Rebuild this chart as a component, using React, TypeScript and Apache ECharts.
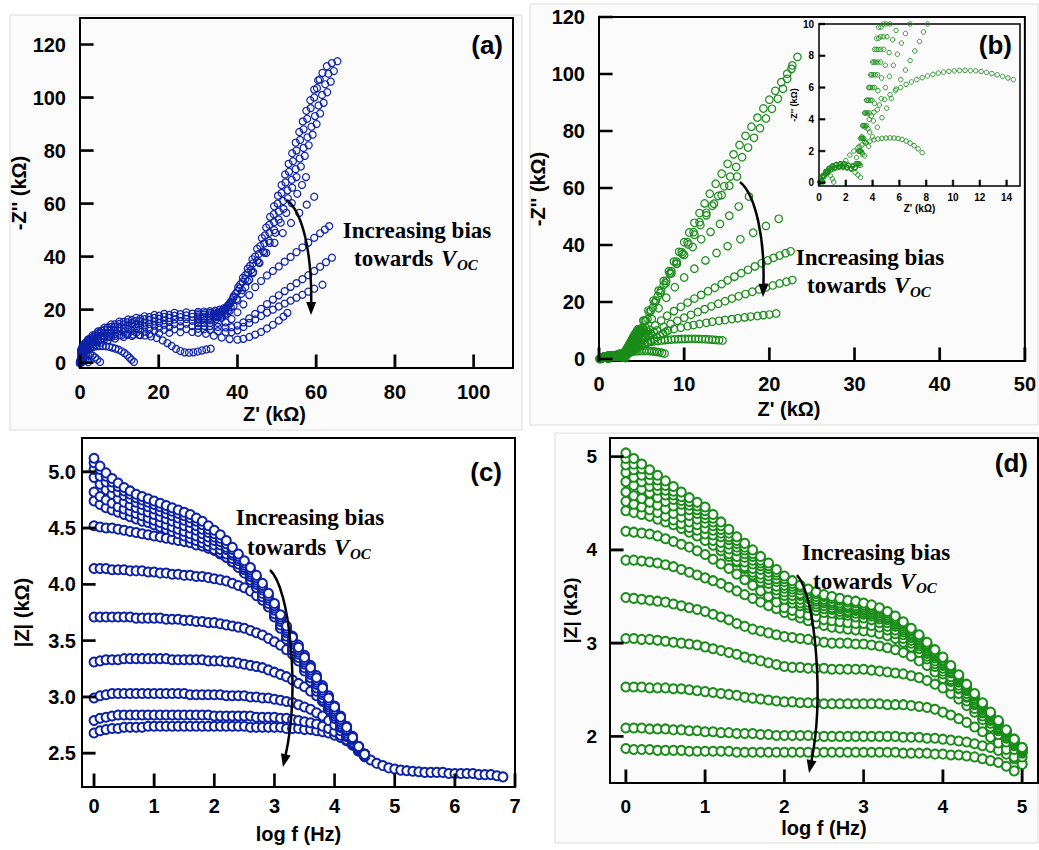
import React, { useEffect, useRef } from "react";
import * as echarts from "echarts";

const BLUE = "#0d22a8";
const GREEN = "#1a8c1a";
const FONT = "'Liberation Sans', Arial, Helvetica, sans-serif";
const SERIF = "'Liberation Serif', 'Times New Roman', serif";

// ---------------- Panel (a): Nyquist, blue ----------------
const aPlateauZreA = [0, 0.3, 1, 2, 3.2, 4.6, 6.2, 7.9, 10, 12.2, 14.3, 16.4, 18.9, 21.4, 24, 27];
const aPlateauZreB = [0, 0.5, 1.4, 2.6, 3.9, 5.4, 7, 8.9, 11.1, 13.2, 15.3, 17.6, 20.1, 22.7, 25.5, 28.5];
const aM1 = [0, 4.9, 6.8, 8.7, 10.3, 11.8, 13.2, 14.4, 15.5, 16.3, 16.9, 17.5, 18.0, 18.4, 18.8, 19.0];
const aM2 = [0, 5.6, 7.5, 9.2, 10.7, 12.1, 13.3, 14.5, 15.4, 16.1, 16.6, 17.2, 17.7, 18.0, 18.3, 18.5];
const aM3 = [0, 4.6, 6.4, 8.2, 9.6, 11.1, 12.4, 13.5, 14.6, 15.3, 15.8, 16.4, 16.9, 17.3, 17.7, 17.8];
const aM4 = [0, 5.3, 7.0, 8.6, 10.0, 11.4, 12.5, 13.6, 14.4, 15.0, 15.6, 16.1, 16.5, 16.9, 17.2, 17.3];
const aM5 = [0, 4.2, 5.9, 7.6, 8.9, 10.2, 11.4, 12.4, 13.4, 14.1, 14.6, 15.1, 15.6, 16.0, 16.3, 16.5];
const aM6 = [0, 4.8, 6.4, 7.8, 9.1, 10.3, 11.4, 12.3, 13.1, 13.7, 14.2, 14.6, 15.0, 15.4, 15.6, 15.8];
const aM7 = [0, 3.8, 5.3, 6.8, 8.0, 9.2, 10.2, 11.1, 12.0, 12.6, 13.1, 13.5, 14.0, 14.3, 14.6, 14.7];
const aM8 = [0, 4.2, 5.6, 6.9, 8.0, 9.0, 9.9, 10.8, 11.5, 12.0, 12.4, 12.8, 13.2, 13.4, 13.7, 13.8];
const aM9 = [0, 3.3, 4.6, 5.9, 6.9, 7.9, 8.8, 9.6, 10.4, 10.9, 11.3, 11.7, 12.1, 12.4, 12.6, 12.7];
const aM10 = [0, 3.5, 4.7, 5.8, 6.7, 7.6, 8.4, 9.1, 9.7, 10.1, 10.4, 10.8, 11.1, 11.3, 11.5, 11.6];
const aM1Tail = [[30, 19.2], [31.5, 19.3], [33, 19.4], [34.3, 19.6], [35.5, 20], [36.6, 20.6], [37.5, 21.5], [38.3, 22.9], [39, 24.5], [40.5, 28], [42, 31.5], [43.5, 35], [45, 38.5], [46.5, 42], [48, 46], [49.3, 50], [50.5, 54], [51.7, 58], [52.8, 62], [53.9, 66], [55, 70], [56.1, 74], [57.1, 78], [58.1, 82], [59.1, 86], [60.1, 90], [61, 94], [61.9, 98], [62.8, 102], [63.7, 106], [64.5, 110], [65.4, 113.7]];
const aM2Tail = [[30, 18.6], [31.7, 18.7], [33, 18.8], [34.2, 19], [35.3, 19.3], [36.3, 19.9], [37.2, 20.8], [38, 22.1], [38.6, 23.5], [40, 27], [41.3, 30.5], [42.7, 34], [44, 37.5], [45.4, 41], [46.8, 45], [48.1, 49], [49.3, 53], [50.5, 57], [51.6, 61], [52.7, 65], [53.8, 69], [54.8, 73], [55.8, 77], [56.8, 81], [57.8, 85], [58.8, 89], [59.7, 93], [60.6, 97], [61.5, 101], [62.3, 105], [63.1, 109], [64, 113]];
const aM3Tail = [[30, 18], [31.5, 18.1], [33, 18.2], [34, 18.4], [35, 18.6], [36, 19.2], [36.8, 20], [37.6, 21.3], [38.2, 22.7], [39.5, 26], [40.7, 29.5], [42, 33], [43.2, 36.5], [44.5, 40], [45.8, 44], [47, 48], [48.1, 52], [49.2, 56], [50.2, 60], [51.2, 64], [52.2, 68], [53.1, 72], [54.1, 76], [55, 80], [55.9, 84], [56.8, 88], [57.7, 92], [58.6, 96], [59.5, 100], [60.2, 103.5], [60.9, 106.8]];
const aM4Tail = [[30, 17.4], [31.6, 17.4], [33, 17.5], [34, 17.6], [34.8, 17.8], [35.7, 18.4], [36.5, 19.2], [37.2, 20.4], [37.8, 21.8], [39, 25], [40.2, 28.5], [41.4, 32], [42.6, 35.5], [43.8, 39], [45, 43], [46.2, 47], [47.3, 51], [48.3, 55], [49.3, 59], [50.3, 63], [51.2, 67], [52.1, 71], [53, 75], [53.9, 79], [54.8, 83], [55.7, 87], [56.6, 91], [57.5, 95], [58.5, 99], [59.5, 103], [60.5, 106.5], [61.6, 109.3], [62.7, 111.8]];
const aM5Tail = [[30, 16.7], [31.5, 16.8], [33, 16.9], [34, 17], [35, 17.2], [36, 17.8], [36.8, 18.6], [37.6, 19.7], [38.3, 21], [39.8, 24], [41.2, 27.3], [42.6, 30.7], [44, 34.2], [45.4, 37.8], [46.8, 41.5], [48.2, 45.2], [49.6, 49], [51, 52.8], [52.4, 56.5], [53.8, 60.2], [55.2, 63.7], [56.4, 67], [57.4, 70]];
const aM6Tail = [[30, 15.9], [31.6, 15.9], [33, 16], [34.6, 16.4], [36, 17], [37, 18.1], [38, 19.5], [39, 21.4], [40, 23.5], [41, 26], [42, 28.5], [43, 31.2], [43.9, 33.8], [45.6, 37.6], [47.3, 41.4], [49.4, 45.2], [51.5, 48.9], [53.6, 52.7], [55.7, 56.5], [57.6, 59.6], [59.5, 62.6]];
const aM7Tail = [[30, 14.9], [31.5, 15], [33, 15], [35, 15], [37, 15.2], [38.5, 16.5], [40, 19], [41.5, 22], [43, 25.5], [44.5, 28.5], [46, 30.8], [47.5, 32.9], [49, 34.6], [50.5, 36.3], [52, 38.1], [53.5, 39.9], [55, 41.7], [56.5, 43.5], [58, 45.3], [59.5, 47.1], [61, 48.8], [62.2, 50.2], [63.3, 51.5]];
const aM8Tail = [[30, 13.9], [31.6, 13.9], [33, 13.8], [35, 13.5], [37, 13.3], [38.5, 13.4], [40, 14], [41.5, 15.2], [43, 16.7], [44.5, 18.4], [46, 20.3], [47.5, 22.1], [49, 23.8], [50.5, 25.4], [52, 27], [53.5, 28.6], [55, 30], [56.5, 31.5], [58, 33], [59.5, 34.6], [61, 36.2], [62.5, 37.9], [64, 39.6]];
const aM9Tail = [[30, 12.8], [31.5, 12.6], [33, 12.4], [35, 11.9], [37, 11.5], [38.5, 11.5], [40, 12.2], [41.5, 13.5], [43, 15], [44.5, 16.3], [46, 17.6], [47.5, 18.9], [49, 20], [50.5, 21.2], [52, 22.3], [53.5, 23.4], [55, 24.5], [56.5, 25.6], [58, 26.8], [59.5, 27.9], [61.6, 29.4]];
const aM10Tail = [[30, 11.3], [32, 10.9], [34, 10.2], [36, 9.5], [38, 8.9], [40, 8.7], [41.5, 9], [43, 9.7], [44.5, 10.6], [46, 11.6], [47.5, 12.9], [49, 14.3], [50.5, 15.9], [51.7, 17.4], [52.7, 18.8]];
const aArc04 = [[0.05, 0.1], [0.15, 0.4], [0.3, 0.4], [0.4, 0.1]];
const aArc21 = [[0.05, 0.2], [0.2, 0.9], [0.5, 1.4], [0.9, 1.6], [1.3, 1.4], [1.7, 0.9], [2.1, 0.2]];
const aArc51 = [[0.05, 0.3], [0.2, 1.2], [0.5, 2.0], [0.9, 2.6], [1.4, 3.0], [2.0, 3.2], [2.6, 3.1], [3.2, 2.7], [3.8, 2.0], [4.4, 1.2], [5.1, 0.3]];
const aArc137 = [[0.05, 0.4], [0.2, 1.5], [0.5, 2.6], [0.9, 3.5], [1.4, 4.3], [2, 5], [2.7, 5.5], [3.4, 5.9], [4.2, 6.2], [5, 6.3], [5.8, 6.3], [6.6, 6.2], [7.4, 6], [8.2, 5.7], [9, 5.3], [9.8, 4.9], [10.6, 4.3], [11.3, 3.6], [12, 2.8], [12.6, 1.9], [13.1, 1.1], [13.7, 0.3]];
const aArc332 = [[0, 0], [0.3, 2], [0.8, 4], [1.5, 5.5], [2.5, 6.8], [3.5, 7.8], [4.6, 8.6], [6, 9.3], [7.5, 9.8], [9, 10.1], [10.5, 10.3], [12, 10.5], [13.5, 10.6], [15, 10.5], [16.5, 10.3], [18, 9.9], [19.5, 9.3], [21, 8.4], [22.2, 7.4], [23.3, 6.3], [24.4, 5.2], [25.5, 4.4], [26.6, 3.9], [27.7, 3.8], [28.8, 3.9], [29.9, 4.2], [31, 4.6], [32.1, 5], [33.2, 5.3]];

// ---------------- Panel (b) + inset: Nyquist, green ----------------
const bArcA = [[0.15, 0.1], [0.3, 0.45], [0.5, 0.7], [0.75, 0.9], [1, 1.05], [1.3, 1.15], [1.6, 1.2], [1.9, 1.2], [2.2, 1.1], [2.5, 1.05]];
const bArcB = [[0.2, 0.1], [0.35, 0.4], [0.6, 0.65], [0.9, 0.85], [1.2, 0.95], [1.5, 1], [1.8, 1], [2.1, 0.95], [2.4, 0.9], [2.7, 0.95]];
const bB1 = [[2.75, 1.2], [2.95, 2], [3.1, 2.8], [3.25, 3.6], [3.4, 4.4], [3.55, 5.2], [3.7, 6], [3.85, 6.8], [4, 7.6], [4.15, 8.4], [4.3, 9.1], [4.45, 9.8], [4.6, 10.5], [5.2, 13.5], [5.8, 17], [6.4, 20.5], [7, 24], [7.6, 27.4], [8.2, 30.8], [8.8, 34.2], [9.4, 37.6], [10, 41], [10.6, 44.4], [11.2, 47.8], [11.8, 51.2], [12.4, 54.6], [13, 58], [13.7, 61.5], [14.4, 65], [15.1, 68.5], [15.8, 71.8], [16.5, 75.1], [17.2, 78.3], [17.9, 81.5], [18.6, 84.7], [19.3, 87.9], [20, 91], [20.7, 94.1], [21.4, 97.1], [22.1, 100.1], [22.7, 103], [23.3, 106]];
const bB2 = [[2.8, 1.2], [3, 2], [3.15, 2.8], [3.3, 3.6], [3.45, 4.4], [3.6, 5.2], [3.77, 6], [3.93, 6.8], [4.1, 7.6], [4.27, 8.4], [4.45, 9.1], [4.62, 9.8], [4.8, 10.5], [5.35, 13.4], [5.95, 16.6], [6.55, 19.8], [7.2, 23.2], [7.85, 26.6], [8.5, 30], [9.15, 33.4], [9.8, 36.8], [10.5, 40.2], [11.2, 43.6], [11.9, 47], [12.6, 50.4], [13.3, 53.8], [14, 57.2], [14.7, 60.6], [15.4, 64], [16.1, 67.4], [16.8, 70.8], [17.5, 74.2], [18.2, 77.6], [18.9, 81], [19.6, 84.4], [20.3, 87.8], [21, 91.3], [21.6, 94.8], [22.1, 98.3], [22.6, 101.8]];
const bB3 = [[2.85, 1.2], [3.05, 2], [3.2, 2.8], [3.37, 3.6], [3.53, 4.4], [3.7, 5.2], [3.87, 6], [4.05, 6.8], [4.23, 7.6], [4.41, 8.4], [4.6, 9.2], [4.8, 10], [5, 10.8], [5.5, 13.5], [6.1, 17], [6.7, 20.5], [7.3, 24], [7.9, 27.4], [8.5, 30.8], [9.1, 34.2], [9.7, 37.5], [10.4, 41], [11.1, 44.5], [11.8, 48], [12.6, 51.3], [13.5, 54.5], [14.4, 57.5], [15.3, 60.8], [16.2, 64]];
const bB4 = [[2.9, 1.2], [3.1, 2], [3.27, 2.8], [3.45, 3.6], [3.63, 4.4], [3.82, 5.2], [4.01, 6], [4.2, 6.8], [4.4, 7.6], [4.6, 8.4], [4.8, 9.2], [5, 10], [5.2, 10.8], [5.7, 14], [6.3, 18], [6.9, 22], [7.6, 26], [8.3, 30], [9.1, 33.5], [10, 36.5], [11, 39.3], [12, 42], [13.1, 44.6], [14.2, 47.4], [15.3, 50.3], [16.4, 53.5], [17.6, 57]];
const bB5 = [[2.95, 1.2], [3.15, 2], [3.35, 2.8], [3.55, 3.6], [3.75, 4.4], [3.95, 5.2], [4.15, 6], [4.37, 6.8], [4.6, 7.6], [4.83, 8.4], [5.07, 9.2], [5.3, 10], [5.55, 10.8], [6.2, 14], [7, 17.8], [7.9, 21.5], [8.9, 25.2], [10, 28.6], [11.2, 31.7], [12.5, 34.6], [13.8, 37.2], [15.1, 39.6], [16.6, 42], [18.1, 44.3], [19.6, 46.7], [21.1, 49.2]];
const bB6 = [[3, 1.2], [3.2, 1.9], [3.42, 2.6], [3.65, 3.4], [3.9, 4.2], [4.15, 5], [4.4, 5.8], [4.67, 6.6], [4.95, 7.4], [5.23, 8.2], [5.5, 9], [5.75, 9.6], [6, 10.2], [6.6, 11.8], [7.3, 13.5], [8, 15.2], [8.8, 16.8], [9.6, 18.3], [10.4, 19.8], [11.2, 21.2], [12, 22.5], [12.8, 23.8], [13.6, 25], [14.4, 26.3], [15.1, 27.6], [15.9, 28.9], [16.7, 30.1], [17.5, 31.3], [18.3, 32.5], [19.1, 33.6], [19.8, 34.6], [20.5, 35.5], [21.2, 36.3], [21.9, 37.1], [22.5, 37.8]];
const bB7 = [[3, 1.1], [3.25, 1.8], [3.5, 2.5], [3.78, 3.2], [4.06, 3.9], [4.35, 4.6], [4.65, 5.3], [4.95, 6], [5.25, 6.7], [5.55, 7.4], [5.85, 8.1], [6.15, 8.8], [6.45, 9.4], [6.8, 10], [7.6, 11.2], [8.4, 12.3], [9.2, 13.4], [10, 14.5], [10.8, 15.5], [11.6, 16.5], [12.4, 17.5], [13.2, 18.5], [14, 19.4], [14.8, 20.3], [15.6, 21.2], [16.4, 22], [17.2, 22.8], [18, 23.6], [18.8, 24.4], [19.6, 25.1], [20.4, 25.8], [21.2, 26.5], [22, 27.1], [22.7, 27.7]];
const bB8 = [[3.1, 1.1], [3.4, 1.7], [3.7, 2.3], [4, 2.9], [4.35, 3.5], [4.7, 4.1], [5.05, 4.7], [5.4, 5.3], [5.75, 5.9], [6.1, 6.5], [6.45, 7.1], [6.8, 7.7], [7.15, 8.3], [7.5, 8.9], [7.8, 9.5], [8.1, 10], [8.8, 10.5], [9.6, 11], [10.4, 11.5], [11.1, 11.9], [11.8, 12.3], [12.6, 12.7], [13.3, 13.1], [14.1, 13.4], [14.8, 13.7], [15.6, 14], [16.3, 14.3], [17.1, 14.6], [17.8, 14.9], [18.6, 15.1], [19.3, 15.4], [20, 15.6], [20.8, 16]];
const bB9 = [[2.8, 1.6], [3, 2.3], [3.2, 2.9], [3.45, 3.5], [3.75, 4], [4.1, 4.45], [4.5, 4.9], [4.9, 5.25], [5.3, 5.55], [5.7, 5.8], [6.1, 6], [6.5, 6.2], [6.9, 6.35], [7.3, 6.5], [7.7, 6.62], [8.1, 6.73], [8.5, 6.83], [8.9, 6.91], [9.3, 6.97], [9.7, 7.02], [10.1, 7.05], [10.5, 7.07], [10.9, 7.08], [11.3, 7.07], [11.7, 7.05], [12.1, 7.01], [12.5, 6.95], [12.9, 6.88], [13.3, 6.8], [13.7, 6.7], [14.1, 6.6], [14.5, 6.5]];
const bB10 = [[0.2, 0.1], [0.4, 0.45], [0.7, 0.7], [1, 0.85], [1.3, 0.95], [1.6, 1.05], [1.8, 1.2], [2, 1.4], [2.3, 1.75], [2.6, 2], [2.9, 2.2], [3.2, 2.38], [3.5, 2.52], [3.8, 2.62], [4.1, 2.7], [4.4, 2.76], [4.7, 2.8], [5, 2.82], [5.3, 2.83], [5.6, 2.82], [5.9, 2.79], [6.2, 2.73], [6.5, 2.63], [6.8, 2.5], [7.1, 2.34], [7.4, 2.14], [7.7, 1.9]];
const bB11 = [[0.1, 0.05], [0.3, 0.4], [0.6, 0.75], [0.9, 0.95], [1.2, 1.1], [1.5, 1.15], [1.8, 1.1], [2.1, 1], [2.4, 0.85], [2.7, 0.65], [2.9, 0.5], [3.1, 0.35]];
const bB12 = [[0.1, 0.05], [0.25, 0.35], [0.45, 0.55], [0.65, 0.6], [0.85, 0.45], [1, 0.25], [1.1, 0.05]];
const bB13 = [[0.05, 0.05], [0.15, 0.15], [0.25, 0.12], [0.3, 0.05]];

// ---------------- Panel (c): |Z| vs log f, blue ----------------
const cLogF = [0, 0.1, 0.2, 0.3, 0.4, 0.5, 0.6, 0.7, 0.8, 0.9, 1, 1.1, 1.2, 1.3, 1.4, 1.5, 1.6, 1.7, 1.8, 1.9, 2, 2.1, 2.2, 2.3, 2.4, 2.5, 2.6, 2.7, 2.8, 2.9, 3, 3.1, 3.2, 3.3, 3.4, 3.5, 3.6, 3.7, 3.8, 3.9, 4, 4.1, 4.2, 4.3, 4.4, 4.5];
const cTailLogF = [4.6, 4.7, 4.8, 4.9, 5, 5.1, 5.2, 5.3, 5.4, 5.5, 5.6, 5.7, 5.8, 5.9, 6, 6.1, 6.2, 6.3, 6.4, 6.5, 6.6, 6.7, 6.8];
const cTail = [2.44, 2.41, 2.39, 2.37, 2.36, 2.35, 2.345, 2.34, 2.335, 2.33, 2.33, 2.33, 2.33, 2.32, 2.32, 2.32, 2.32, 2.32, 2.31, 2.31, 2.31, 2.3, 2.29];
const cU1 = [5.12, 5.05, 4.99, 4.94, 4.90, 4.86, 4.83, 4.80, 4.78, 4.76, 4.74, 4.72, 4.70, 4.68, 4.66, 4.64, 4.62, 4.59, 4.56, 4.52, 4.48, 4.44, 4.39, 4.33, 4.27, 4.21, 4.15, 4.08, 4.01, 3.92, 3.83, 3.73, 3.63, 3.53, 3.44, 3.35, 3.26, 3.17, 3.08, 2.99, 2.91, 2.82, 2.73, 2.64, 2.56, 2.49];
const cU2 = [5.08, 5.02, 4.96, 4.91, 4.87, 4.83, 4.80, 4.77, 4.75, 4.73, 4.71, 4.69, 4.67, 4.65, 4.63, 4.61, 4.59, 4.56, 4.53, 4.49, 4.45, 4.41, 4.36, 4.31, 4.25, 4.19, 4.13, 4.06, 3.99, 3.90, 3.81, 3.71, 3.61, 3.51, 3.42, 3.33, 3.24, 3.15, 3.06, 2.97, 2.89, 2.80, 2.71, 2.63, 2.55, 2.49];
const cU3 = [5.02, 4.96, 4.91, 4.86, 4.82, 4.79, 4.76, 4.73, 4.71, 4.69, 4.67, 4.65, 4.63, 4.61, 4.59, 4.57, 4.55, 4.52, 4.49, 4.46, 4.42, 4.38, 4.33, 4.28, 4.23, 4.17, 4.11, 4.04, 3.97, 3.88, 3.79, 3.69, 3.59, 3.49, 3.40, 3.31, 3.22, 3.13, 3.04, 2.95, 2.87, 2.78, 2.70, 2.62, 2.54, 2.48];
const cU4 = [4.95, 4.89, 4.84, 4.80, 4.76, 4.73, 4.70, 4.68, 4.66, 4.64, 4.62, 4.60, 4.58, 4.56, 4.54, 4.52, 4.50, 4.48, 4.45, 4.42, 4.39, 4.35, 4.31, 4.26, 4.21, 4.15, 4.09, 4.02, 3.95, 3.86, 3.77, 3.67, 3.57, 3.47, 3.38, 3.29, 3.20, 3.11, 3.02, 2.93, 2.85, 2.76, 2.68, 2.60, 2.53, 2.48];
const cU5 = [4.82, 4.78, 4.75, 4.72, 4.69, 4.67, 4.65, 4.63, 4.61, 4.59, 4.57, 4.55, 4.53, 4.51, 4.49, 4.47, 4.45, 4.43, 4.41, 4.38, 4.35, 4.31, 4.27, 4.23, 4.18, 4.13, 4.07, 4.00, 3.92, 3.83, 3.74, 3.64, 3.54, 3.44, 3.35, 3.26, 3.17, 3.08, 2.99, 2.91, 2.83, 2.74, 2.66, 2.59, 2.52, 2.47];
const cU6 = [4.74, 4.71, 4.68, 4.66, 4.64, 4.62, 4.60, 4.58, 4.56, 4.55, 4.53, 4.51, 4.49, 4.47, 4.45, 4.43, 4.41, 4.39, 4.37, 4.34, 4.31, 4.28, 4.24, 4.20, 4.15, 4.10, 4.04, 3.97, 3.89, 3.80, 3.71, 3.61, 3.51, 3.41, 3.32, 3.23, 3.14, 3.05, 2.97, 2.89, 2.81, 2.73, 2.65, 2.58, 2.52, 2.47];
const cL7 = [4.52, 4.51, 4.50, 4.50, 4.49, 4.48, 4.47, 4.46, 4.45, 4.44, 4.43, 4.42, 4.41, 4.40, 4.39, 4.38, 4.37, 4.35, 4.34, 4.32, 4.30, 4.27, 4.24, 4.20, 4.16, 4.11, 4.05, 3.98, 3.90, 3.81, 3.72, 3.62, 3.52, 3.42, 3.33, 3.24, 3.15, 3.06, 2.97, 2.89, 2.81, 2.73, 2.65, 2.58, 2.52, 2.47];
const cL6 = [4.14, 4.14, 4.14, 4.13, 4.13, 4.13, 4.12, 4.12, 4.12, 4.11, 4.11, 4.10, 4.10, 4.09, 4.09, 4.08, 4.08, 4.07, 4.07, 4.06, 4.05, 4.04, 4.03, 4.01, 3.99, 3.97, 3.94, 3.90, 3.86, 3.81, 3.75, 3.69, 3.62, 3.54, 3.46, 3.37, 3.28, 3.19, 3.10, 3.01, 2.92, 2.83, 2.74, 2.65, 2.56, 2.49];
const cL5 = [3.71, 3.71, 3.71, 3.71, 3.71, 3.71, 3.71, 3.70, 3.70, 3.70, 3.70, 3.70, 3.69, 3.69, 3.69, 3.68, 3.68, 3.67, 3.67, 3.66, 3.66, 3.65, 3.64, 3.63, 3.62, 3.61, 3.59, 3.57, 3.55, 3.52, 3.49, 3.46, 3.42, 3.38, 3.33, 3.28, 3.22, 3.15, 3.08, 3.00, 2.91, 2.82, 2.73, 2.64, 2.56, 2.49];
const cL4 = [3.31, 3.32, 3.33, 3.33, 3.33, 3.34, 3.34, 3.34, 3.34, 3.34, 3.34, 3.34, 3.34, 3.33, 3.33, 3.33, 3.33, 3.33, 3.33, 3.32, 3.32, 3.32, 3.31, 3.31, 3.30, 3.29, 3.28, 3.27, 3.26, 3.24, 3.22, 3.20, 3.18, 3.15, 3.12, 3.09, 3.05, 3.01, 2.96, 2.90, 2.84, 2.77, 2.70, 2.62, 2.55, 2.49];
const cL3 = [2.99, 3.01, 3.02, 3.03, 3.03, 3.03, 3.03, 3.03, 3.03, 3.03, 3.03, 3.03, 3.03, 3.03, 3.03, 3.03, 3.02, 3.02, 3.02, 3.02, 3.02, 3.02, 3.01, 3.01, 3.01, 3.01, 3.00, 3.00, 2.99, 2.99, 2.98, 2.97, 2.96, 2.95, 2.93, 2.91, 2.89, 2.86, 2.83, 2.79, 2.75, 2.70, 2.65, 2.59, 2.54, 2.49];
const cL2 = [2.79, 2.81, 2.82, 2.83, 2.84, 2.84, 2.84, 2.84, 2.84, 2.84, 2.84, 2.84, 2.84, 2.84, 2.84, 2.84, 2.84, 2.84, 2.84, 2.84, 2.83, 2.83, 2.83, 2.83, 2.83, 2.83, 2.83, 2.82, 2.82, 2.82, 2.82, 2.81, 2.81, 2.80, 2.79, 2.78, 2.77, 2.76, 2.74, 2.72, 2.69, 2.66, 2.62, 2.58, 2.53, 2.49];
const cL1 = [2.68, 2.70, 2.71, 2.72, 2.72, 2.73, 2.73, 2.73, 2.73, 2.74, 2.74, 2.74, 2.74, 2.74, 2.74, 2.74, 2.74, 2.74, 2.74, 2.74, 2.74, 2.74, 2.74, 2.74, 2.74, 2.74, 2.73, 2.73, 2.73, 2.73, 2.73, 2.73, 2.72, 2.72, 2.72, 2.71, 2.71, 2.70, 2.69, 2.68, 2.66, 2.64, 2.61, 2.57, 2.53, 2.49];

// ---------------- Panel (d): |Z| vs log f, green ----------------
const dLogF = [0, 0.1, 0.2, 0.3, 0.4, 0.5, 0.6, 0.7, 0.8, 0.9, 1, 1.1, 1.2, 1.3, 1.4, 1.5, 1.6, 1.7, 1.8, 1.9, 2, 2.1, 2.2, 2.3, 2.4, 2.5, 2.6, 2.7, 2.8, 2.9, 3, 3.1, 3.2, 3.3, 3.4, 3.5, 3.6, 3.7, 3.8, 3.9, 4, 4.1, 4.2, 4.3, 4.4, 4.5, 4.6, 4.7, 4.8, 4.9, 5];
const dD1 = [5.04, 4.98, 4.92, 4.86, 4.80, 4.74, 4.68, 4.62, 4.56, 4.51, 4.46, 4.38, 4.30, 4.22, 4.14, 4.07, 4.00, 3.93, 3.86, 3.79, 3.72, 3.67, 3.62, 3.58, 3.55, 3.52, 3.50, 3.48, 3.46, 3.45, 3.43, 3.41, 3.38, 3.34, 3.29, 3.23, 3.16, 3.09, 3.01, 2.93, 2.85, 2.76, 2.66, 2.56, 2.46, 2.36, 2.26, 2.17, 2.07, 1.97, 1.88];
const dD2 = [4.98, 4.92, 4.87, 4.81, 4.75, 4.69, 4.63, 4.57, 4.52, 4.47, 4.42, 4.34, 4.26, 4.18, 4.10, 4.03, 3.96, 3.89, 3.83, 3.76, 3.69, 3.64, 3.60, 3.56, 3.53, 3.50, 3.48, 3.46, 3.44, 3.43, 3.41, 3.39, 3.36, 3.32, 3.27, 3.21, 3.14, 3.07, 2.99, 2.92, 2.84, 2.75, 2.65, 2.55, 2.45, 2.35, 2.25, 2.16, 2.06, 1.97, 1.88];
const dD3 = [4.91, 4.86, 4.80, 4.75, 4.69, 4.64, 4.59, 4.53, 4.48, 4.43, 4.38, 4.30, 4.22, 4.14, 4.07, 4.00, 3.93, 3.86, 3.80, 3.73, 3.66, 3.61, 3.57, 3.53, 3.50, 3.47, 3.45, 3.43, 3.41, 3.40, 3.39, 3.37, 3.34, 3.30, 3.25, 3.20, 3.13, 3.06, 2.98, 2.90, 2.82, 2.73, 2.64, 2.54, 2.44, 2.34, 2.24, 2.15, 2.05, 1.96, 1.87];
const dD4 = [4.83, 4.78, 4.73, 4.68, 4.64, 4.59, 4.54, 4.49, 4.43, 4.39, 4.34, 4.26, 4.18, 4.11, 4.03, 3.96, 3.89, 3.83, 3.76, 3.69, 3.62, 3.58, 3.53, 3.50, 3.47, 3.45, 3.43, 3.41, 3.39, 3.38, 3.37, 3.35, 3.32, 3.28, 3.24, 3.18, 3.11, 3.04, 2.97, 2.89, 2.81, 2.72, 2.62, 2.53, 2.43, 2.33, 2.23, 2.15, 2.05, 1.96, 1.87];
const dD5 = [4.73, 4.69, 4.65, 4.61, 4.56, 4.52, 4.47, 4.42, 4.37, 4.33, 4.29, 4.21, 4.14, 4.06, 3.99, 3.92, 3.85, 3.79, 3.72, 3.66, 3.59, 3.55, 3.51, 3.48, 3.45, 3.43, 3.41, 3.39, 3.38, 3.37, 3.35, 3.33, 3.30, 3.27, 3.22, 3.16, 3.09, 3.03, 2.95, 2.87, 2.79, 2.70, 2.61, 2.51, 2.41, 2.32, 2.22, 2.14, 2.04, 1.95, 1.86];
const dD6 = [4.62, 4.58, 4.55, 4.51, 4.48, 4.44, 4.39, 4.35, 4.30, 4.27, 4.23, 4.16, 4.08, 4.01, 3.93, 3.87, 3.80, 3.74, 3.68, 3.61, 3.55, 3.51, 3.47, 3.44, 3.42, 3.40, 3.38, 3.37, 3.35, 3.35, 3.33, 3.31, 3.28, 3.25, 3.20, 3.14, 3.07, 3.01, 2.93, 2.86, 2.78, 2.69, 2.60, 2.50, 2.41, 2.31, 2.22, 2.13, 2.04, 1.94, 1.86];
const dD7 = [4.52, 4.49, 4.46, 4.43, 4.40, 4.36, 4.32, 4.28, 4.24, 4.21, 4.17, 4.10, 4.03, 3.96, 3.88, 3.82, 3.76, 3.70, 3.64, 3.57, 3.51, 3.47, 3.43, 3.41, 3.39, 3.37, 3.36, 3.34, 3.33, 3.32, 3.31, 3.29, 3.26, 3.22, 3.18, 3.12, 3.06, 2.99, 2.91, 2.84, 2.76, 2.68, 2.58, 2.49, 2.39, 2.30, 2.21, 2.12, 2.03, 1.93, 1.85];
const dD8 = [4.42, 4.40, 4.38, 4.36, 4.33, 4.30, 4.27, 4.23, 4.19, 4.15, 4.10, 4.05, 3.99, 3.93, 3.87, 3.80, 3.73, 3.66, 3.59, 3.53, 3.47, 3.43, 3.40, 3.38, 3.35, 3.33, 3.32, 3.31, 3.30, 3.28, 3.27, 3.25, 3.22, 3.18, 3.14, 3.09, 3.03, 2.97, 2.89, 2.81, 2.73, 2.64, 2.55, 2.46, 2.37, 2.28, 2.19, 2.10, 2.01, 1.93, 1.85];
const dD9 = [4.20, 4.19, 4.18, 4.17, 4.15, 4.12, 4.09, 4.06, 4.03, 3.99, 3.95, 3.90, 3.85, 3.80, 3.74, 3.68, 3.62, 3.56, 3.50, 3.44, 3.38, 3.35, 3.32, 3.30, 3.28, 3.25, 3.24, 3.23, 3.22, 3.21, 3.21, 3.19, 3.17, 3.14, 3.10, 3.05, 3.00, 2.94, 2.86, 2.78, 2.70, 2.61, 2.52, 2.43, 2.35, 2.26, 2.18, 2.09, 2.01, 1.92, 1.84];
const dD10 = [3.89, 3.89, 3.88, 3.87, 3.86, 3.84, 3.82, 3.79, 3.76, 3.73, 3.70, 3.67, 3.64, 3.60, 3.56, 3.52, 3.48, 3.44, 3.40, 3.37, 3.33, 3.30, 3.27, 3.24, 3.21, 3.19, 3.17, 3.16, 3.15, 3.14, 3.13, 3.12, 3.10, 3.08, 3.05, 3.01, 2.96, 2.90, 2.83, 2.75, 2.67, 2.59, 2.51, 2.42, 2.34, 2.25, 2.17, 2.08, 2.00, 1.91, 1.83];
const dD11 = [3.49, 3.48, 3.47, 3.46, 3.45, 3.44, 3.42, 3.40, 3.38, 3.36, 3.34, 3.31, 3.28, 3.25, 3.21, 3.18, 3.15, 3.13, 3.11, 3.09, 3.07, 3.06, 3.05, 3.04, 3.02, 3.01, 3.00, 3.00, 3.00, 2.99, 2.99, 2.98, 2.97, 2.95, 2.93, 2.90, 2.86, 2.81, 2.76, 2.69, 2.62, 2.54, 2.46, 2.38, 2.30, 2.22, 2.14, 2.06, 1.98, 1.90, 1.82];
const dD12 = [3.05, 3.05, 3.04, 3.04, 3.03, 3.02, 3.01, 3.00, 2.99, 2.98, 2.96, 2.94, 2.92, 2.90, 2.88, 2.85, 2.83, 2.81, 2.79, 2.77, 2.75, 2.74, 2.74, 2.73, 2.73, 2.73, 2.72, 2.72, 2.72, 2.72, 2.72, 2.71, 2.70, 2.69, 2.68, 2.67, 2.65, 2.63, 2.60, 2.56, 2.52, 2.46, 2.40, 2.33, 2.26, 2.18, 2.10, 2.02, 1.94, 1.86, 1.78];
const dD13 = [2.53, 2.53, 2.53, 2.52, 2.52, 2.52, 2.51, 2.51, 2.50, 2.49, 2.48, 2.47, 2.46, 2.45, 2.44, 2.42, 2.41, 2.40, 2.39, 2.38, 2.37, 2.37, 2.36, 2.36, 2.36, 2.35, 2.35, 2.35, 2.35, 2.35, 2.35, 2.35, 2.35, 2.34, 2.34, 2.34, 2.33, 2.32, 2.31, 2.29, 2.26, 2.23, 2.19, 2.15, 2.10, 2.05, 1.99, 1.93, 1.86, 1.78, 1.70];
const dD14 = [2.09, 2.09, 2.09, 2.08, 2.08, 2.08, 2.07, 2.07, 2.06, 2.06, 2.05, 2.05, 2.04, 2.04, 2.03, 2.03, 2.03, 2.02, 2.02, 2.01, 2.01, 2.01, 2.01, 2.01, 2.00, 2.00, 2.00, 2.00, 2.00, 2.00, 2.00, 2.00, 2.00, 2.00, 2.00, 1.99, 1.99, 1.99, 1.98, 1.98, 1.97, 1.96, 1.95, 1.94, 1.92, 1.90, 1.88, 1.85, 1.81, 1.76, 1.70];
const dD15 = [1.87, 1.86, 1.86, 1.86, 1.85, 1.85, 1.85, 1.85, 1.84, 1.84, 1.84, 1.84, 1.84, 1.84, 1.83, 1.83, 1.83, 1.83, 1.83, 1.83, 1.83, 1.83, 1.83, 1.83, 1.83, 1.83, 1.83, 1.83, 1.83, 1.83, 1.83, 1.83, 1.83, 1.83, 1.83, 1.82, 1.82, 1.82, 1.82, 1.81, 1.81, 1.80, 1.80, 1.79, 1.78, 1.76, 1.74, 1.72, 1.68, 1.63];

// ---------------- tick labels ----------------
const aXTicks = [0, 20, 40, 60, 80, 100];
const aYTicks = [0, 20, 40, 60, 80, 100, 120];
const bXTicks = [0, 10, 20, 30, 40, 50];
const bYTicks = [0, 20, 40, 60, 80, 100, 120];
const insetXTicks = [0, 2, 4, 6, 8, 10, 12, 14];
const insetYTicks = [0, 2, 4, 6, 8, 10];
const cXTicks = [0, 1, 2, 3, 4, 5, 6, 7];
const cYTicks = [2.5, 3, 3.5, 4, 4.5, 5];
const dXTicks = [0, 1, 2, 3, 4, 5];
const dYTicks = [2, 3, 4, 5];

// plot boxes and axis ranges (layout only)
const BOXES = [
  { left: 80, top: 18, width: 433, height: 350 },
  { left: 599, top: 17, width: 428, height: 344 },
  { left: 819, top: 24, width: 201, height: 162 },
  { left: 82, top: 438, width: 433, height: 349 },
  { left: 610, top: 438, width: 428, height: 345 },
];
const XR = [[0, 110], [0, 50], [0, 15], [-0.2, 7], [-0.2, 5.2]];
const YR = [[-2, 130], [-0.7, 120], [-0.2, 10], [2.2, 5.3], [1.5, 5.2]];

function pairs(xs: number[], ys: number[]) {
  return ys.map((y, i) => [xs[i], y]);
}

function sc(data: number[][], idx: number, color: string, size: number, bw: number, fill: string) {
  return {
    type: "scatter",
    xAxisIndex: idx,
    yAxisIndex: idx,
    data,
    symbol: "circle",
    symbolSize: size,
    clip: true,
    silent: true,
    z: 2,
    itemStyle: { color: fill, borderColor: color, borderWidth: bw, opacity: 1 },
  };
}

// inward tick marks as small bar symbols placed on the axes' own scales
function tickSeries(idx: number, xt: number[], yt: number[], len: number, w: number) {
  const xMin = XR[idx][0];
  const yMin = YR[idx][0];
  return [
    {
      type: "scatter",
      xAxisIndex: idx,
      yAxisIndex: idx,
      data: xt.map((v) => [v, yMin]),
      symbol: "rect",
      symbolSize: [w, len],
      symbolOffset: [0, -len / 2],
      clip: false,
      silent: true,
      z: 20,
      itemStyle: { color: "#000", borderColor: "#000", borderWidth: 0.5, opacity: 1 },
    },
    {
      type: "scatter",
      xAxisIndex: idx,
      yAxisIndex: idx,
      data: yt.map((v) => [xMin, v]),
      symbol: "rect",
      symbolSize: [len, w],
      symbolOffset: [len / 2, 0],
      clip: false,
      silent: true,
      z: 20,
      itemStyle: { color: "#000", borderColor: "#000", borderWidth: 0.5, opacity: 1 },
    },
  ];
}

function axis(o: any) {
  const fs = o.fs ?? 20;
  return {
    type: "value",
    gridIndex: o.grid,
    min: o.min,
    max: o.max,
    axisLine: { show: false, onZero: false },
    splitLine: { show: false },
    axisTick: { show: false },
    axisLabel: {
      customValues: o.ticks,
      color: "#000",
      fontFamily: FONT,
      fontWeight: "bold",
      fontSize: fs,
      margin: o.margin ?? 12,
      formatter: o.fmt,
    },
    name: o.name,
    nameLocation: "middle",
    nameGap: o.gap,
    nameTextStyle: {
      color: "#000",
      fontFamily: FONT,
      fontWeight: "bold",
      fontSize: o.nfs ?? 20,
      padding: o.pad ?? 0,
    },
  };
}

function arrow(x0: number, y0: number, c1x: number, c1y: number, c2x: number, c2y: number, x1: number, y1: number) {
  const dx = x1 - c2x;
  const dy = y1 - c2y;
  const L = Math.sqrt(dx * dx + dy * dy) || 1;
  const ux = dx / L;
  const uy = dy / L;
  const hl = 13;
  const hw = 5;
  const bx = x1 - ux * hl;
  const by = y1 - uy * hl;
  return [
    {
      type: "bezierCurve",
      shape: { x1: x0, y1: y0, cpx1: c1x, cpy1: c1y, cpx2: c2x, cpy2: c2y, x2: bx + ux * 2, y2: by + uy * 2 },
      style: { stroke: "#000", lineWidth: 2.5, fill: null },
      z: 50,
    },
    {
      type: "polygon",
      shape: { points: [[x1, y1], [bx - uy * hw, by + ux * hw], [bx + uy * hw, by - ux * hw]] },
      style: { fill: "#000" },
      z: 50,
    },
  ];
}

function note(cx: number, y1: number, y2: number) {
  return [
    {
      type: "text",
      x: cx,
      y: y1,
      z: 50,
      style: { text: "Increasing bias", fill: "#000", fontFamily: SERIF, fontWeight: "bold", fontSize: 23, align: "center", verticalAlign: "middle" },
    },
    {
      type: "text",
      x: cx - 63,
      y: y2,
      z: 50,
      style: { text: "towards", fill: "#000", fontFamily: SERIF, fontWeight: "bold", fontSize: 23, align: "left", verticalAlign: "middle" },
    },
    {
      type: "text",
      x: cx + 24,
      y: y2,
      z: 50,
      style: { text: "V", fill: "#000", fontFamily: SERIF, fontWeight: "bold", fontStyle: "italic", fontSize: 23, align: "left", verticalAlign: "middle" },
    },
    {
      type: "text",
      x: cx + 40,
      y: y2 + 7,
      z: 50,
      style: { text: "OC", fill: "#000", fontFamily: SERIF, fontWeight: "bold", fontStyle: "italic", fontSize: 15, align: "left", verticalAlign: "middle" },
    },
  ];
}

function panelLabel(text: string, x: number, y: number) {
  return {
    type: "text",
    x,
    y,
    z: 50,
    style: { text, fill: "#000", fontFamily: FONT, fontWeight: "bold", fontSize: 26, align: "right", verticalAlign: "middle" },
  };
}

export default function App() {
  const ref = useRef<HTMLDivElement>(null);

  useEffect(() => {
    if (!ref.current) return;
    const chart = echarts.init(ref.current, undefined, { renderer: "svg" });

    const aCurves = [
      [aPlateauZreA, aM1, aM1Tail], [aPlateauZreB, aM2, aM2Tail], [aPlateauZreA, aM3, aM3Tail],
      [aPlateauZreB, aM4, aM4Tail], [aPlateauZreA, aM5, aM5Tail], [aPlateauZreB, aM6, aM6Tail],
      [aPlateauZreA, aM7, aM7Tail], [aPlateauZreB, aM8, aM8Tail], [aPlateauZreA, aM9, aM9Tail],
      [aPlateauZreB, aM10, aM10Tail],
    ] as [number[], number[], number[][]][];
    const aSeries = [
      ...aCurves.map(([xs, pl, tail]) => sc(pairs(xs, pl).concat(tail), 0, BLUE, 7, 1.2, "rgba(255,255,255,0)")),
      ...[aArc04, aArc21, aArc51, aArc137, aArc332].map((d) => sc(d, 0, BLUE, 7, 1.2, "rgba(255,255,255,0)")),
    ];

    const bCurves = [
      bArcA.concat(bB1), bArcA.concat(bB2), bArcA.concat(bB3), bArcA.concat(bB4),
      bArcB.concat(bB5), bArcB.concat(bB6), bArcB.concat(bB7), bArcB.concat(bB8), bArcB.concat(bB9),
      bB10, bB11, bB12, bB13,
    ];
    const bSeries = bCurves.map((d) => sc(d, 1, GREEN, 7.5, 1.2, "rgba(255,255,255,0)"));
    const insetSeries = bCurves.map((d) => sc(d, 2, GREEN, 4.5, 0.9, "rgba(255,255,255,0)"));

    const cCurves = [cL1, cL2, cL3, cL4, cL5, cL6, cL7, cU6, cU5, cU4, cU3, cU2, cU1];
    const cSeries = [
      sc(pairs(cTailLogF, cTail), 3, BLUE, 9, 2, "#fff"),
      ...cCurves.map((ys) => sc(pairs(cLogF, ys), 3, BLUE, 9, 2, "#fff")),
    ];

    const dCurves = [dD15, dD14, dD13, dD12, dD11, dD10, dD9, dD8, dD7, dD6, dD5, dD4, dD3, dD2, dD1];
    const dSeries = dCurves.map((ys) => sc(pairs(dLogF, ys), 4, GREEN, 9, 2, "#fff"));

    const ticks = [
      ...tickSeries(0, aXTicks, aYTicks, 13, 2.5),
      ...tickSeries(1, bXTicks, bYTicks, 13, 2.5),
      ...tickSeries(2, insetXTicks, insetYTicks, 6, 1.5),
      ...tickSeries(3, cXTicks, cYTicks, 13, 2.5),
      ...tickSeries(4, dXTicks, dYTicks, 13, 2.5),
    ];

    const gridStyle = { show: true, borderColor: "#000", borderWidth: 2, backgroundColor: "transparent", containLabel: false };

    const elements: any[] = [
      { type: "rect", shape: { x: 10, y: 15, width: 512, height: 415 }, style: { fill: "#fbfbfb", stroke: "#dcdcdc", lineWidth: 1 }, z: -10 },
      { type: "rect", shape: { x: 530, y: 4, width: 508, height: 421 }, style: { fill: "#fbfbfb", stroke: "#dcdcdc", lineWidth: 1 }, z: -10 },
      { type: "rect", shape: { x: 555, y: 433, width: 483, height: 410 }, style: { fill: "#fbfbfb", stroke: "#dcdcdc", lineWidth: 1 }, z: -10 },
      panelLabel("(a)", 503, 45),
      panelLabel("(b)", 1012, 45),
      panelLabel("(c)", 502, 472),
      panelLabel("(d)", 1028, 463),
      ...note(417, 230, 258),
      ...note(870, 257, 285),
      ...note(310, 517, 547),
      ...note(876, 552, 581),
      ...arrow(287, 200, 302, 212, 312, 250, 311, 315),
      ...arrow(740, 182, 756, 195, 765, 240, 763, 297),
      ...arrow(270, 570, 290, 588, 300, 690, 283, 767),
      ...arrow(797, 575, 816, 596, 824, 700, 809, 773),
    ];

    const option: any = {
      animation: false,
      backgroundColor: "#fff",
      grid: [
        { ...gridStyle, ...BOXES[0] },
        { ...gridStyle, ...BOXES[1] },
        { ...gridStyle, ...BOXES[2], borderWidth: 1.5 },
        { ...gridStyle, ...BOXES[3] },
        { ...gridStyle, ...BOXES[4] },
      ],
      xAxis: [
        axis({ grid: 0, min: XR[0][0], max: XR[0][1], ticks: aXTicks, name: "Z' (kΩ)", gap: 36, pad: [0, 44, 0, 0], margin: 14 }),
        axis({ grid: 1, min: XR[1][0], max: XR[1][1], ticks: bXTicks, name: "Z' (kΩ)", gap: 38, pad: [0, 46, 0, 0], margin: 13 }),
        axis({ grid: 2, min: XR[2][0], max: XR[2][1], ticks: insetXTicks, name: "Z' (kΩ)", gap: 17, fs: 10, nfs: 10, margin: 6 }),
        axis({ grid: 3, min: XR[3][0], max: XR[3][1], ticks: cXTicks, name: "log f (Hz)", gap: 37, margin: 9 }),
        axis({ grid: 4, min: XR[4][0], max: XR[4][1], ticks: dXTicks, name: "log f (Hz)", gap: 35, fs: 19, margin: 14 }),
      ],
      yAxis: [
        axis({ grid: 0, min: YR[0][0], max: YR[0][1], ticks: aYTicks, name: "-Z'' (kΩ)", gap: 47, margin: 14 }),
        axis({ grid: 1, min: YR[1][0], max: YR[1][1], ticks: bYTicks, name: "-Z'' (kΩ)", gap: 46, margin: 14 }),
        axis({ grid: 2, min: YR[2][0], max: YR[2][1], ticks: insetYTicks, name: "-Z'' (kΩ)", gap: 17, fs: 10, nfs: 9, margin: 5 }),
        axis({ grid: 3, min: YR[3][0], max: YR[3][1], ticks: cYTicks, name: "|Z| (kΩ)", gap: 50, margin: 6, fmt: (v: number) => v.toFixed(1) }),
        axis({ grid: 4, min: YR[4][0], max: YR[4][1], ticks: dYTicks, name: "|Z| (kΩ)", gap: 30, fs: 19, nfs: 19, margin: 13 }),
      ],
      series: [...aSeries, ...bSeries, ...insetSeries, ...cSeries, ...dSeries, ...ticks],
      graphic: { elements },
    };

    chart.setOption(option);
    return () => chart.dispose();
  }, []);

  return (
    <div
      ref={ref}
      style={{ position: "absolute", left: 0, top: 0, width: 1039, height: 850, background: "#fff" }}
    />
  );
}
